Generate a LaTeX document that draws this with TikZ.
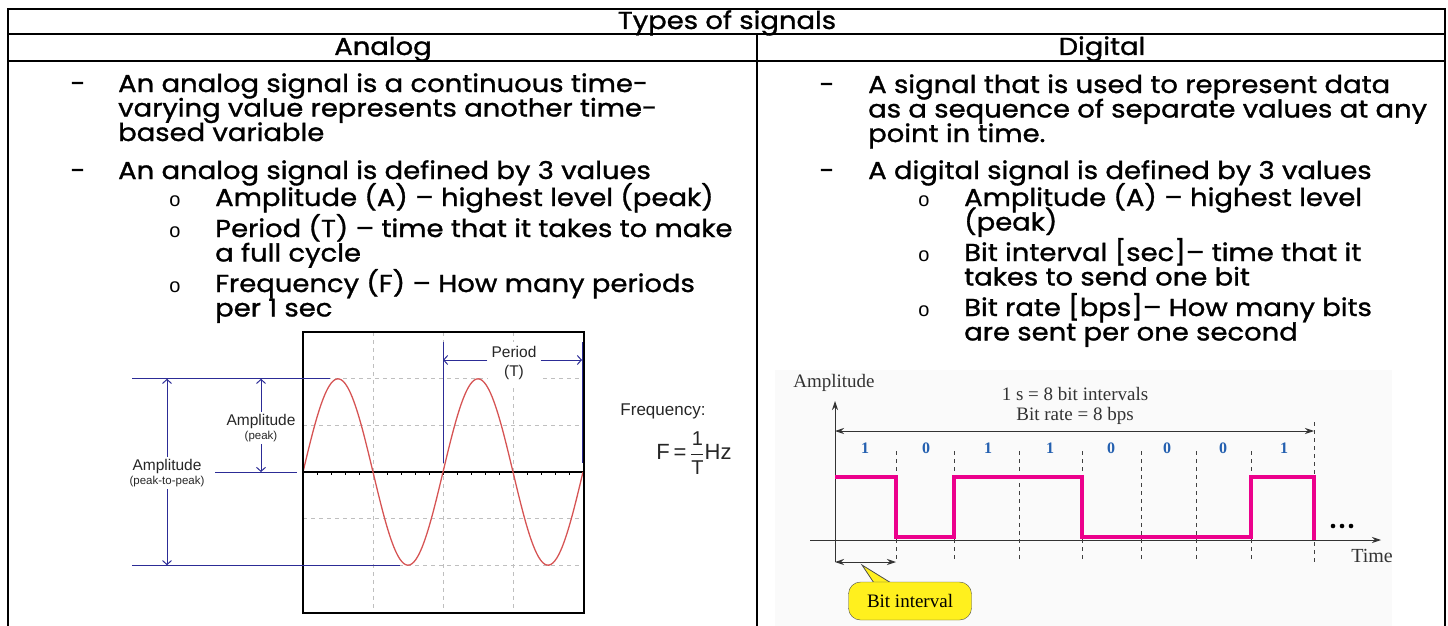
\documentclass[tikz,border=0pt]{standalone}
\usepackage{fontspec}
\usepackage{amsmath}
\setmainfont{Poppins}[FakeStretch=1.12,FakeBold=1.2]
\newfontfamily\arialfont{Liberation Sans}
\newfontfamily\timesfont{Liberation Serif}
\newcommand{\scopesmall}{\fontsize{11.5}{12}\selectfont}
\newcommand{\cellsize}{\fontsize{24.5}{24.5}\selectfont\lineskiplimit=-50pt\lineskip=0pt}
\definecolor{sigred}{RGB}{214,84,84}
\definecolor{annotblue}{RGB}{44,44,150}
\definecolor{sigpink}{RGB}{236,0,140}
\definecolor{bitblue}{RGB}{36,96,176}
\definecolor{calloutyellow}{RGB}{255,240,30}
\usetikzlibrary{arrows.meta,positioning,calc}

\tikzset{
  tableline/.style={line width=2.2pt},
  bodytext/.style={anchor=base west,align=left,inner sep=0pt,font=\cellsize},
  headtext/.style={anchor=base,inner sep=0pt,font=\cellsize},
  dashmark/.style={anchor=base,inner sep=0pt,font=\cellsize},
  circmark/.style={anchor=base,inner sep=0pt,font=\arialfont\fontsize{20}{24}\selectfont},
  gridline/.style={black!25,dashed,line width=0.8pt,dash pattern=on 4pt off 4pt},
  annot/.style={annotblue,line width=1pt},
  annotarrow/.style={annot,-{Straight Barb[length=4pt,width=9pt]}},
  scopelabel/.style={font=\arialfont\fontsize{15.5}{16}\selectfont,text=black!85,align=center,inner sep=2pt},
  serifnote/.style={font=\timesfont\fontsize{19}{20}\selectfont,text=black!80,align=center,inner sep=0pt},
  bitlabel/.style={font=\timesfont\bfseries\fontsize{16}{16}\selectfont,text=bitblue,inner sep=0pt},
  bitdash/.style={black!75,line width=1pt,dash pattern=on 4pt off 4pt},
  axisarrow/.style={black!80,line width=0.9pt,-{Stealth[length=9pt,width=6pt]}},
  callout/.style={draw=black!70,fill=calloutyellow,rounded corners=12pt,
                  minimum width=123pt,minimum height=38pt,
                  font=\timesfont\fontsize{19}{20}\selectfont}
}

\begin{document}
\begin{tikzpicture}[x=1pt,y=-1pt]
  \useasboundingbox (0,0) rectangle (1448,626);

  %% Table frame
  \draw[tableline] (8,640) -- (8,9) -- (1445,9) -- (1445,640);
  \draw[tableline] (8,34) -- (1445,34);
  \draw[tableline] (8,61) -- (1445,61);
  \draw[tableline] (757,34) -- (757,640);

  %% Headings
  \node[headtext] (title) at (727,29) {Types of signals};
  \node[headtext] (analogHead) at (383,55) {Analog};
  \node[headtext] (digitalHead) at (1102,55) {Digital};

  %% Analog column text (node base = last line)
  \node[dashmark] (anaDashA) at (78,92) {-};
  \node[bodytext] (anaDef) at (118,141) {An analog signal is a continuous time-\\varying value represents another time-\\based variable};
  \node[dashmark] (anaDashB) at (78,179) {-};
  \node[bodytext] (anaVals) at (118,179) {An analog signal is defined by 3 values};
  \node[circmark] (anaDotA) at (175,206) {o};
  \node[bodytext] (anaAmp) at (215,206) {Amplitude (A) -- highest level (peak)};
  \node[circmark] (anaDotB) at (175,237) {o};
  \node[bodytext] (anaPer) at (215,261.5) {Period (T) -- time that it takes to make\\a full cycle};
  \node[circmark] (anaDotC) at (175,292) {o};
  \node[bodytext] (anaFreq) at (215,316.5) {Frequency (F) -- How many periods\\per 1 sec};

  %% Digital column text
  \node[dashmark] (digDashA) at (827,93) {-};
  \node[bodytext] (digDef) at (868,142) {A signal that is used to represent data\\as a sequence of separate values at any\\point in time.};
  \node[dashmark] (digDashB) at (827,179) {-};
  \node[bodytext] (digVals) at (868,179) {A digital signal is defined by 3 values};
  \node[circmark] (digDotA) at (924,206) {o};
  \node[bodytext] (digAmp) at (964,230.5) {Amplitude (A) -- highest level\\(peak)};
  \node[circmark] (digDotB) at (924,261) {o};
  \node[bodytext] (digInt) at (964,285.5) {Bit interval [sec]-- time that it\\takes to send one bit};
  \node[circmark] (digDotC) at (924,316) {o};
  \node[bodytext] (digRate) at (964,340.5) {Bit rate [bps]-- How many bits\\are sent per one second};

  %% Analog scope picture
  \foreach \gx in {373,443,513}
    \draw[gridline] (\gx,332) -- (\gx,613);
  \foreach \gy in {378.8,425.6,518.4,565.2}
    \draw[gridline] (303,\gy) -- (584,\gy);
  \draw[black,line width=1.4pt] (303,472) -- (584,472);
  \foreach \tx in {317,331,...,584}
    \draw[black,line width=0.8pt] (\tx,472) -- (\tx,475);
  \draw[sigred,line width=1.3pt,domain=0:280,samples=140,smooth]
    plot ({303+\x},{472-93.2*sin(2.5714*\x)});
  \draw[black,line width=2.4pt] (303,332) rectangle (584,613);

  %% Amplitude annotations
  \draw[annot] (132,378.8) -- (330,378.8);
  \draw[annot] (132,565.2) -- (400,565.2);
  \draw[annot] (215,472) -- (297,472);
  \coordinate (ppTop) at (167,378.8);
  \coordinate (ppBot) at (167,565.2);
  \coordinate (pkTop) at (261,378.8);
  \coordinate (pkBot) at (261,472);
  \node[scopelabel] (ampPP) at (167,473) {Amplitude\\[-2pt]{\scopesmall(peak-to-peak)}};
  \node[scopelabel] (ampPk) at (261,428) {Amplitude\\[-2pt]{\scopesmall(peak)}};
  \draw[annotarrow] (ampPP.north) -- (ppTop);
  \draw[annotarrow] (ampPP.south) -- (ppBot);
  \draw[annotarrow] (ampPk.north) -- (pkTop);
  \draw[annotarrow] (ampPk.south) -- (pkBot);

  %% Period annotation
  \draw[annot] (443,342) -- (443,463);
  \draw[annot] (582,342) -- (582,463);
  \coordinate (perL) at (443,360);
  \coordinate (perR) at (582,360);
  \node[scopelabel,fill=white,inner sep=4pt] (period) at (514,363) {Period\\[3pt](T)};
  \draw[annotarrow] (period.west |- perL) -- (perL);
  \draw[annotarrow] (period.east |- perR) -- (perR);

  %% Frequency formula
  \node[scopelabel,font=\arialfont\fontsize{17}{18}\selectfont] (freqLabel) at (663,411) {Frequency:};
  \node[scopelabel,font=\arialfont\fontsize{22}{23}\selectfont] (freqFormula) at (694,453)
    {F\,=\,$\displaystyle\frac{\mbox{\fontsize{20}{21}\selectfont 1}}{\mbox{\fontsize{20}{21}\selectfont T}}$Hz};

  %% Digital signal picture
  \fill[black!2] (775,370) rectangle (1392,626);
  \node[serifnote] (ampAxis) at (834,383) {Amplitude};
  \node[serifnote] (rateNote) at (1075,406) {1 s = 8 bit intervals\\Bit rate = 8 bps};
  \node[serifnote,font=\timesfont\fontsize{20}{21}\selectfont] (timeAxis) at (1372,556) {Time};

  \coordinate (yFoot) at (835,562);
  \coordinate (yHead) at (835,401);
  \coordinate (xFoot) at (810,540);
  \coordinate (xHead) at (1381,540);
  \draw[axisarrow] (yFoot) -- (yHead);
  \draw[axisarrow] (xFoot) -- (xHead);

  \foreach \bx in {896,954,1019,1082,1141,1196,1251}
    \draw[bitdash] (\bx,451) -- (\bx,562);
  \draw[bitdash] (1314,422) -- (1314,562);

  \coordinate (spanL) at (835,431);
  \coordinate (spanR) at (1314,431);
  \draw[black!80,line width=0.9pt,{Stealth[length=9pt,width=6pt]}-{Stealth[length=9pt,width=6pt]}] (spanL) -- (spanR);

  \foreach \bx/\bv [count=\i] in {865/1,926/0,988/1,1050/1,1111/0,1167/0,1223/0,1284/1}
    \node[bitlabel] (bit\i) at (\bx,448) {\bv};

  \draw[sigpink,line width=3.6pt,line join=miter]
    (835,477) -| (896,537) -| (954,477) -| (1082,537) -| (1251,477) -| (1314,540);

  \foreach \dx in {1333,1342,1351}
    \fill[black] (\dx,526) circle (2.3);

  %% Bit interval callout
  \coordinate (bitL) at (835,562);
  \coordinate (bitR) at (896,562);
  \draw[black!80,line width=0.9pt,{Stealth[length=9pt,width=6pt]}-{Stealth[length=9pt,width=6pt]}] (bitL) -- (bitR);
  \filldraw[draw=black!70,fill=calloutyellow,line width=0.8pt]
    (862,565) -- (876,586) -- (896,586) -- cycle;
  \node[callout] (bitCallout) at (910,601) {Bit interval};
\end{tikzpicture}
\end{document}
